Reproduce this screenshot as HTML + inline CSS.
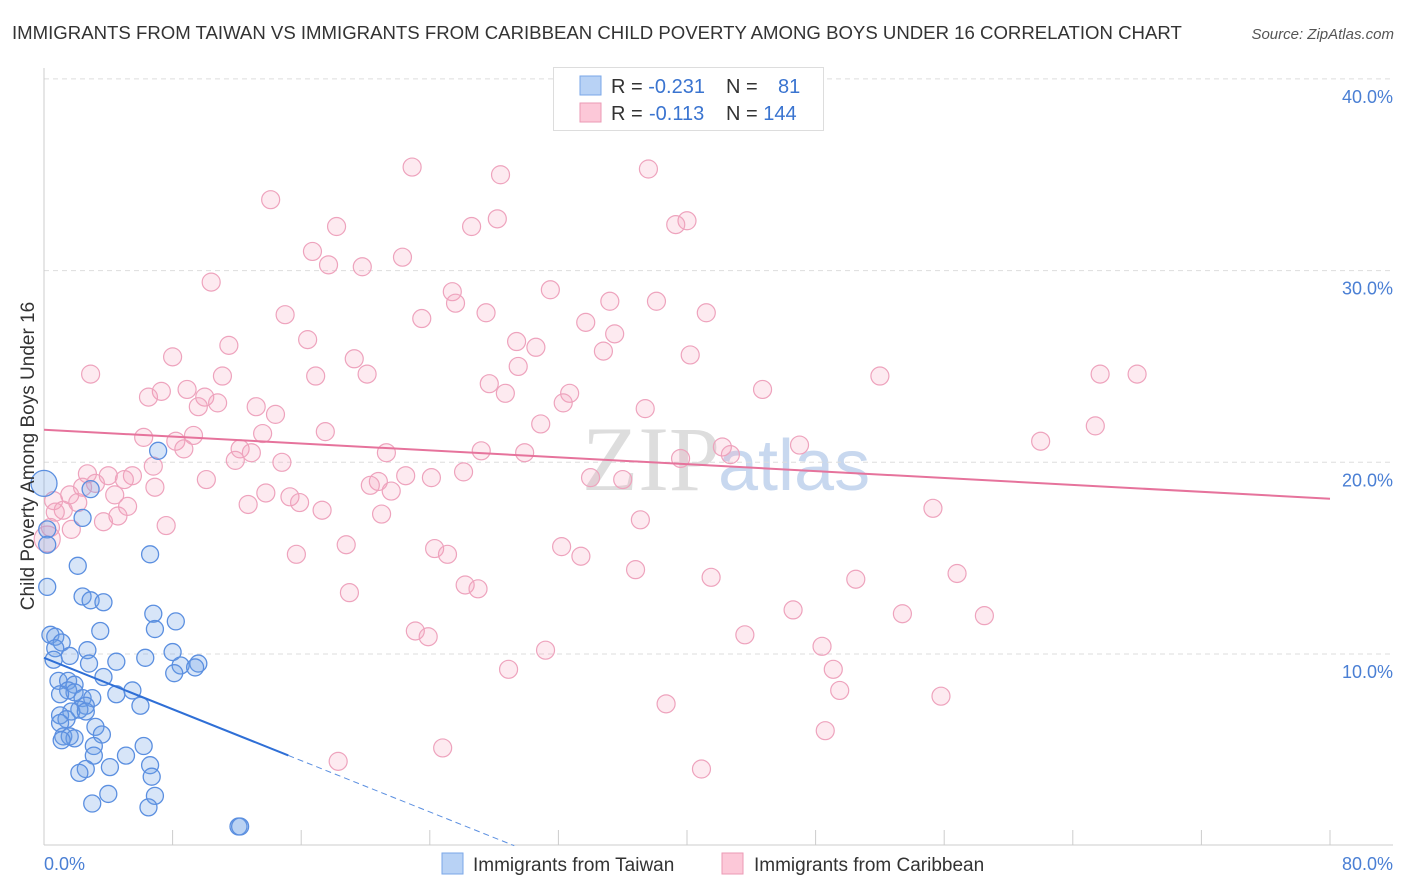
<!DOCTYPE html>
<html><head><meta charset="utf-8"><style>
body{margin:0;background:#fff;font-family:"Liberation Sans",sans-serif;}
svg{display:block}
</style></head><body>
<svg id="chart" width="1406" height="892">
<text x="12" y="39" font-size="18.6" fill="#333">IMMIGRANTS FROM TAIWAN VS IMMIGRANTS FROM CARIBBEAN CHILD POVERTY AMONG BOYS UNDER 16 CORRELATION CHART</text>
<text x="1394" y="39" font-size="15" fill="#555" font-style="italic" text-anchor="end">Source: ZipAtlas.com</text>
<text x="720" y="490" font-size="92" fill="#ddd" text-anchor="end" font-family="Liberation Serif">ZIP</text>
<text x="718" y="490" font-size="72" fill="#c8d8ef">atlas</text>
<g id="grid"></g><g id="axes"></g><g id="pts"></g><g id="lines"></g>
<text transform="translate(34,456) rotate(-90)" font-size="19" fill="#333" text-anchor="middle">Child Poverty Among Boys Under 16</text>
<text x="44" y="870" font-size="18" fill="#4a7fd4">0.0%</text>
<text x="1393" y="870" font-size="18" fill="#4a7fd4" text-anchor="end">80.0%</text>
<g>
<rect x="553.5" y="67.5" width="270" height="63" fill="#fff" stroke="#ddd"/>
<rect x="580" y="76" width="21" height="19" fill="#b8d2f5" stroke="#7aa7e8"/>
<rect x="580" y="103" width="21" height="19" fill="#fcc8d8" stroke="#eb9ab5"/>
<text x="611" y="93" font-size="20" fill="#333">R = <tspan fill="#3a74d0">-0.231</tspan></text>
<text x="726" y="93" font-size="20" fill="#333">N = <tspan x="778" fill="#3a74d0">81</tspan></text>
<text x="611" y="120" font-size="20" fill="#333">R = <tspan x="649" fill="#3a74d0">-0.113</tspan></text>
<text x="726" y="120" font-size="20" fill="#333">N = <tspan fill="#3a74d0">144</tspan></text>
</g>
<g>
<rect x="442" y="853" width="21" height="21" fill="#b8d2f5" stroke="#7aa7e8"/>
<text x="473" y="871" font-size="19" fill="#333">Immigrants from Taiwan</text>
<rect x="722" y="853" width="21" height="21" fill="#fcc8d8" stroke="#eb9ab5"/>
<text x="754" y="871" font-size="19" fill="#333">Immigrants from Caribbean</text>
</g>
</svg>
<script>
const yTicks=[10,20,30,40];
const yTickLabels=["10.0%","20.0%","30.0%","40.0%"];
const xTicks=[0,8,16,24,32,40,48,56,64,72,80];
const taiwanX=[0,7.1,2.9,2.4,0.2,0.2,6.6,2.1,0.2,2.4,2.9,3.7,6.8,8.2,6.9,3.5,0.4,0.7,1.1,0.7,2.7,8.0,1.6,0.6,4.5,2.8,6.3,8.5,9.6,9.4,8.1,3.7,0.9,1.5,1.9,1.5,1.9,1.0,5.5,4.5,2.4,3.0,2.6,6.0,2.2,1.7,2.6,1.0,1.4,3.2,1.0,3.6,1.2,1.6,1.9,1.1,6.2,3.1,3.1,5.1,6.6,4.1,2.6,2.2,6.7,4.0,6.9,3.0,6.5,12.1,12.2];
const taiwanY=[18.9,20.6,18.6,17.1,16.5,15.7,15.2,14.6,13.5,13.0,12.8,12.7,12.1,11.7,11.3,11.2,11.0,10.9,10.6,10.3,10.2,10.1,9.9,9.7,9.6,9.5,9.8,9.4,9.5,9.3,9.0,8.8,8.6,8.6,8.4,8.1,8.0,7.9,8.1,7.9,7.7,7.7,7.3,7.3,7.1,7.0,7.0,6.8,6.6,6.2,6.4,5.8,5.7,5.7,5.6,5.5,5.2,5.2,4.7,4.7,4.2,4.1,4.0,3.8,3.6,2.7,2.6,2.2,2.0,1.0,1.0];
const caribX=[22.9,37.6,28.4,14.1,28.2,40.0,39.3,18.2,26.6,16.7,22.3,17.7,19.8,10.4,25.4,31.5,25.6,35.2,38.1,15.0,27.5,41.2,23.5,33.7,35.5,16.4,11.5,29.4,30.6,34.8,8.0,19.3,40.2,29.5,20.1,16.9,11.1,2.9,52.0,65.7,68.0,27.7,44.7,7.3,8.9,28.7,32.7,10.0,6.5,10.8,32.3,9.6,13.2,37.4,14.4,30.9,65.4,13.6,17.5,9.3,6.2,8.2,62.0,47.0,12.2,8.7,42.2,27.2,12.9,21.3,29.9,42.7,39.6,11.9,14.8,6.8,26.1,2.7,4.0,5.5,5.0,22.5,24.1,34.0,36.0,10.1,20.8,20.3,3.2,2.4,6.9,21.6,13.8,4.4,1.6,15.3,0.6,15.9,2.1,12.7,5.2,1.2,0.7,17.3,55.3,21.0,4.6,37.1,3.7,7.6,0.4,1.7,0.2,18.8,32.2,24.3,25.1,15.7,33.4,36.8,56.8,41.5,26.2,50.5,27.0,19.0,46.6,53.4,58.5,23.1,23.9,43.6,48.4,31.2,49.1,28.9,49.5,55.8,38.7,48.6,24.8,18.3,40.9];
const caribY=[35.4,35.3,35.0,33.7,32.7,32.6,32.4,32.3,32.3,31.0,30.7,30.3,30.2,29.4,28.9,29.0,28.3,28.4,28.4,27.7,27.8,27.8,27.5,27.3,26.7,26.4,26.1,26.3,26.0,25.8,25.5,25.4,25.6,25.0,24.6,24.5,24.5,24.6,24.5,24.6,24.6,24.1,23.8,23.7,23.8,23.6,23.6,23.4,23.4,23.1,23.1,22.9,22.9,22.8,22.5,22.0,21.9,21.5,21.6,21.4,21.3,21.1,21.1,20.9,20.7,20.7,20.8,20.6,20.5,20.5,20.5,20.4,20.2,20.1,20.0,19.8,19.5,19.4,19.3,19.3,19.1,19.3,19.2,19.2,19.1,19.1,19.0,18.8,18.9,18.7,18.7,18.5,18.4,18.3,18.3,18.2,18.0,17.9,17.9,17.8,17.7,17.5,17.4,17.5,17.6,17.3,17.2,17.0,16.9,16.7,16.6,16.5,16.0,15.7,15.6,15.5,15.2,15.2,15.1,14.4,14.2,14.0,13.6,13.9,13.4,13.2,12.3,12.1,12.0,11.2,10.9,11.0,10.4,10.2,9.2,9.2,8.1,7.8,7.4,6.0,5.1,4.4,4.0];
const taiwanTrend=[9.8,-0.335];
const caribTrend=[21.7,-0.045];
const X=v=>44+v*16.075, Y=v=>845.7-v*19.17;
const NS="http://www.w3.org/2000/svg";
function mk(p,t,a){const e=document.createElementNS(NS,t);for(const k in a)e.setAttribute(k,a[k]);document.getElementById(p).appendChild(e);return e;}
yTicks.forEach((t,i)=>{
 const g=mk('grid','line',{x1:44,x2:1393,y1:Y(t),y2:Y(t),stroke:'#ddd','stroke-dasharray':'5,4'});
 
 
 const l=mk('grid','text',{x:1393,y:Y(t)+24,'font-size':18,fill:'#4a7fd4','text-anchor':'end'});l.textContent=yTickLabels[i];
 
 
});
const ax=mk('axes','line',{x1:44,x2:44,y1:68,y2:845,stroke:'#ccc'});


const bx=mk('axes','line',{x1:44,x2:1393,y1:845,y2:845,stroke:'#ccc'});


xTicks.forEach(t=>{const e=mk('axes','line',{x1:X(t),x2:X(t),y1:830,y2:845,stroke:'#ccc'});
 
 });
caribX.forEach((x,i)=>{const r=(x<1&&caribY[i]>15.9&&caribY[i]<16.1)?13:9;
 const c=mk('pts','circle',{cx:X(x),cy:Y(caribY[i]),r:r,fill:'rgba(244,160,188,0.22)',stroke:'#eea3bd','stroke-width':1.2});
 
 });
taiwanX.forEach((x,i)=>{const r=(i==0)?13:8.5;
 const c=mk('pts','circle',{cx:X(x),cy:Y(taiwanY[i]),r:r,fill:'rgba(110,160,230,0.28)',stroke:'#5b8fe0','stroke-width':1.3});
 
 });
const tEnd=15.2, tZero=-taiwanTrend[0]/taiwanTrend[1];
const l1=mk('lines','line',{x1:X(0),y1:Y(taiwanTrend[0]),x2:X(tEnd),y2:Y(taiwanTrend[0]+taiwanTrend[1]*tEnd),stroke:'#2f6fd6','stroke-width':2});


const l2=mk('lines','line',{x1:X(tEnd),y1:Y(taiwanTrend[0]+taiwanTrend[1]*tEnd),x2:X(tZero),y2:Y(0),stroke:'#5b8fe0','stroke-width':1,'stroke-dasharray':'6,4'});


const l3=mk('lines','line',{x1:X(0),y1:Y(caribTrend[0]),x2:X(80),y2:Y(caribTrend[0]+caribTrend[1]*80),stroke:'#e6739c','stroke-width':2});


</script>
</body></html>
